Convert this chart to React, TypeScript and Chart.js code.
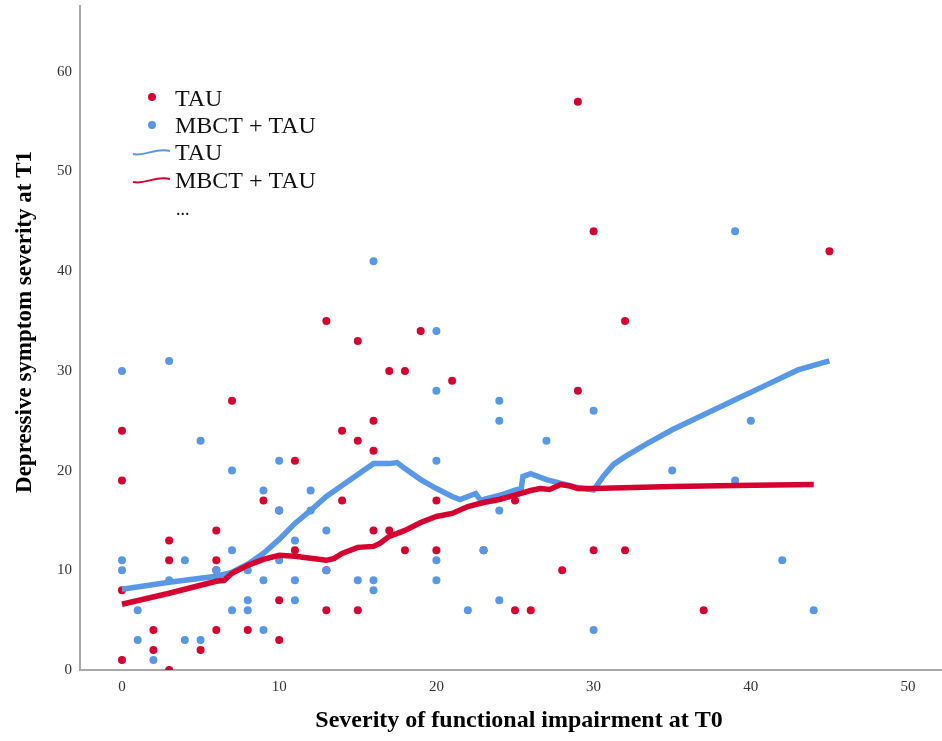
import React, { useEffect, useRef } from "react";
import { Chart, registerables } from "chart.js";

Chart.register(...registerables);

// ---- Data ----
// Scatter points: TAU (red dots)
const tauX = [0, 0, 0, 0, 2, 2, 3, 3, 3, 5, 6, 6, 6, 6, 7, 8, 9, 10, 10, 10, 11, 11, 13, 13, 13, 14, 14, 15, 15, 15, 16, 16, 16, 17, 17, 18, 18, 19, 20, 20, 21, 23, 25, 25, 26, 28, 29, 29, 30, 30, 32, 32, 37, 45];
const tauY = [24, 19, 8, 1, 4, 2, 13, 11, 0, 2, 14, 11, 10, 4, 27, 4, 17, 16, 7, 3, 21, 12, 35, 10, 6, 24, 17, 33, 23, 6, 25, 22, 14, 30, 14, 30, 12, 34, 17, 12, 29, 12, 17, 6, 6, 10, 57, 28, 44, 12, 35, 12, 6, 42];

// Scatter points: MBCT + TAU (blue dots)
const mbctX = [0, 0, 0, 1, 1, 2, 3, 3, 4, 4, 5, 5, 6, 7, 7, 7, 8, 8, 8, 9, 9, 9, 10, 10, 10, 11, 11, 11, 12, 12, 13, 13, 15, 16, 16, 16, 20, 20, 20, 20, 20, 22, 23, 24, 24, 24, 24, 27, 30, 30, 35, 39, 39, 40, 42, 44];
const mbctY = [30, 11, 10, 6, 3, 1, 31, 9, 11, 3, 23, 3, 10, 20, 12, 6, 10, 7, 6, 18, 9, 4, 21, 16, 11, 13, 9, 7, 18, 16, 14, 10, 9, 41, 9, 8, 34, 28, 21, 11, 9, 6, 12, 27, 25, 16, 7, 23, 26, 4, 20, 44, 19, 25, 11, 6];

// Fit line labelled "TAU" (blue)
const fitTauX = [0, 3, 6, 7, 8, 9, 10, 11, 12, 13, 14, 15, 16, 17, 17.5, 18, 19, 20, 21, 21.5, 22, 22.5, 22.8, 23, 24, 25, 25.4, 25.5, 26, 27, 28, 29, 30, 30.6, 31.25, 32, 33.4, 35, 37, 39, 41, 43, 45];
const fitTauY = [8.1, 8.8, 9.4, 9.8, 10.6, 11.7, 13.1, 14.7, 16.0, 17.4, 18.5, 19.6, 20.7, 20.7, 20.8, 20.2, 19.1, 18.2, 17.4, 17.1, 17.4, 17.7, 17.05, 17.1, 17.5, 18.05, 18.2, 19.4, 19.7, 19.1, 18.7, 18.3, 18.05, 19.4, 20.6, 21.4, 22.7, 24.1, 25.6, 27.1, 28.6, 30.1, 31.0];

// Fit line labelled "MBCT + TAU" (red)
const fitMbctX = [0, 3, 5, 6, 6.5, 7, 8, 9, 10, 11, 12, 13, 13.5, 14, 15, 16, 16.4, 17, 18, 19, 20, 21, 22, 23, 24, 25, 26, 26.6, 27.2, 27.9, 28.5, 29, 30, 35, 39, 44];
const fitMbctY = [6.6, 7.7, 8.5, 8.9, 9.0, 9.7, 10.5, 11.1, 11.5, 11.4, 11.2, 11.0, 11.2, 11.7, 12.3, 12.4, 12.7, 13.4, 14.0, 14.8, 15.4, 15.7, 16.4, 16.8, 17.1, 17.55, 18.0, 18.2, 18.1, 18.6, 18.45, 18.2, 18.2, 18.4, 18.5, 18.6];

const xTickValues = [0, 10, 20, 30, 40, 50];
const yTickValues = [0, 10, 20, 30, 40, 50, 60];

const legendLabels = ["TAU", "MBCT + TAU", "TAU", "MBCT + TAU", "..."];
const xTitle = "Severity of functional impairment at T0";
const yTitle = "Depressive symptom severity at T1";

// ---- Styles ----
const RED = "rgb(214, 0, 48)";
const BLUE = "rgb(88, 152, 230)";
const SERIF = '"Liberation Serif", "Times New Roman", serif';

const toPoints = (xs: number[], ys: number[]) => xs.map((x, i) => ({ x, y: ys[i] }));

const overlayPlugin = {
  id: "overlay",
  afterDraw(chart: any) {
    const ctx = chart.ctx as CanvasRenderingContext2D;
    ctx.save();
    // Legend
    ctx.textBaseline = "alphabetic";
    ctx.textAlign = "left";
    ctx.font = `24px ${SERIF}`;
    ctx.fillStyle = RED;
    ctx.beginPath();
    ctx.arc(152, 97, 4, 0, Math.PI * 2);
    ctx.fill();
    ctx.fillStyle = "#111";
    ctx.fillText(legendLabels[0], 175, 106);
    ctx.fillStyle = BLUE;
    ctx.beginPath();
    ctx.arc(152, 125, 4, 0, Math.PI * 2);
    ctx.fill();
    ctx.fillStyle = "#111";
    ctx.fillText(legendLabels[1], 175, 133);
    const wave = (y: number, color: string) => {
      ctx.strokeStyle = color;
      ctx.lineWidth = 2;
      ctx.beginPath();
      ctx.moveTo(133, y + 2);
      ctx.bezierCurveTo(145, y + 5, 156, y - 5, 170, y - 1);
      ctx.stroke();
    };
    wave(152, BLUE);
    ctx.fillStyle = "#111";
    ctx.fillText(legendLabels[2], 175, 160);
    wave(180, RED);
    ctx.fillStyle = "#111";
    ctx.fillText(legendLabels[3], 175, 188);
    ctx.font = `18px ${SERIF}`;
    ctx.fillText(legendLabels[4], 176, 215);

    // Axis titles
    ctx.fillStyle = "#000";
    ctx.textAlign = "center";
    ctx.font = `bold 24px ${SERIF}`;
    ctx.fillText(xTitle, 519, 727);
    ctx.font = `bold 23px ${SERIF}`;
    ctx.translate(31, 322);
    ctx.rotate(-Math.PI / 2);
    ctx.fillText(yTitle, 0, 0);
    ctx.restore();
  },
};

const zeroPadding = (scale: any) => {
  scale.paddingTop = 0;
  scale.paddingBottom = 0;
  scale.paddingLeft = 0;
  scale.paddingRight = 0;
};

export default function App() {
  const canvasRef = useRef<HTMLCanvasElement | null>(null);

  useEffect(() => {
    const canvas = canvasRef.current;
    if (!canvas) return;
    const chart = new Chart(canvas, {
      type: "scatter",
      data: {
        datasets: [
          {
            label: "TAU",
            data: toPoints(tauX, tauY),
            backgroundColor: RED,
            borderColor: RED,
            borderWidth: 0,
            pointRadius: 4,
            order: 4,
          },
          {
            label: "MBCT + TAU",
            data: toPoints(mbctX, mbctY),
            backgroundColor: BLUE,
            borderColor: BLUE,
            borderWidth: 0,
            pointRadius: 4,
            order: 3,
          },
          {
            label: "TAU fit",
            data: toPoints(fitTauX, fitTauY),
            showLine: true,
            borderColor: BLUE,
            borderWidth: 5.5,
            pointRadius: 0,
            tension: 0,
            fill: false,
            order: 2,
          },
          {
            label: "MBCT + TAU fit",
            data: toPoints(fitMbctX, fitMbctY),
            showLine: true,
            borderColor: RED,
            borderWidth: 5.5,
            pointRadius: 0,
            tension: 0,
            fill: false,
            order: 1,
          },
        ],
      },
      options: {
        responsive: false,
        animation: false,
        devicePixelRatio: 1,
        layout: { autoPadding: false, padding: { top: 6, right: 0, left: 0, bottom: 0 } },
        plugins: {
          legend: { display: false },
          tooltip: { enabled: false },
        },
        scales: {
          x: {
            type: "linear",
            min: -2.67,
            max: 52.16,
            grid: { display: false, drawTicks: false },
            border: { display: true, color: "#a8a8a8", width: 2 },
            ticks: {
              color: "#333",
              font: { family: SERIF, size: 15 },
              padding: 8,
            },
            afterBuildTicks: (scale: any) => {
              scale.ticks = xTickValues.map((v) => ({ value: v }));
            },
            afterFit: (scale: any) => {
              scale.height = 71;
              zeroPadding(scale);
            },
          },
          y: {
            type: "linear",
            min: 0,
            max: 66.6,
            grid: { display: false, drawTicks: false },
            border: { display: true, color: "#a8a8a8", width: 2 },
            ticks: {
              color: "#333",
              font: { family: SERIF, size: 15 },
              padding: 8,
            },
            afterBuildTicks: (scale: any) => {
              scale.ticks = yTickValues.map((v) => ({ value: v }));
            },
            afterFit: (scale: any) => {
              scale.width = 80;
              zeroPadding(scale);
            },
          },
        },
      },
      plugins: [overlayPlugin],
    });
    return () => chart.destroy();
  }, []);

  return (
    <div style={{ position: "absolute", left: 0, top: 0, width: 942, height: 741, background: "#fff" }}>
      <canvas ref={canvasRef} width={942} height={741} style={{ width: 942, height: 741, display: "block" }} />
    </div>
  );
}
